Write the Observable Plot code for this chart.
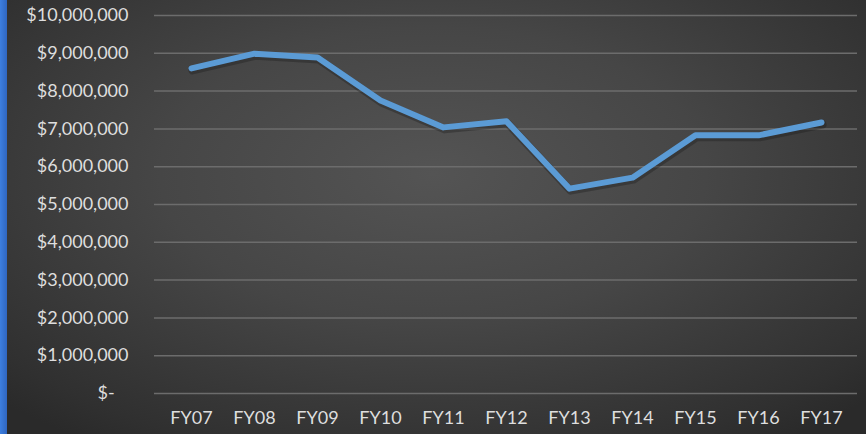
<!DOCTYPE html>
<html>
<head>
<meta charset="utf-8">
<script src="https://cdn.jsdelivr.net/npm/d3@7"></script>
<script src="https://cdn.jsdelivr.net/npm/@observablehq/plot@0.6"></script>
<style>
  html, body { margin: 0; padding: 0; background: #2b2b2b; }
  #wrap {
    position: relative; width: 866px; height: 434px; overflow: hidden;
    background: radial-gradient(ellipse 70% 75% at 50% 40%, #545454 0%, #464646 45%, #303030 90%, #2a2a2a 100%);
  }
  #stripe { position: absolute; left: 0; top: 0; width: 7px; height: 434px;
    background: linear-gradient(to right, #3d7fe0, #2f66c0); }
  #chart { position: absolute; left: 0; top: 0; }
</style>
</head>
<body>
<div id="wrap"><div id="stripe"></div><div id="chart"></div></div>
<script>
const years = ["FY07","FY08","FY09","FY10","FY11","FY12","FY13","FY14","FY15","FY16","FY17"];
const values = [8600000, 8990000, 8890000, 7750000, 7040000, 7200000, 5420000, 5710000, 6830000, 6830000, 7170000];
const yTicks = [0,1000000,2000000,3000000,4000000,5000000,6000000,7000000,8000000,9000000,10000000];

const data = years.map((y, i) => ({year: y, value: values[i]}));
const fmt = d3.format(",");

const chart = Plot.plot({
  width: 866,
  height: 434,
  marginLeft: 154,
  marginRight: 9,
  marginTop: 15,
  marginBottom: 41,
  style: {background: "transparent", fontFamily: "Lato, 'Open Sans', sans-serif", fontSize: "18px", color: "#dedede"},
  x: {type: "point", domain: years, padding: 0.5, label: null},
  y: {domain: [0, 10000000], label: null},
  marks: [
    Plot.ruleY(yTicks, {stroke: "#6c6c6c", strokeWidth: 1.5}),
    Plot.axisY({ticks: yTicks, tickSize: 0, tickPadding: 26, label: null,
      tickFormat: d => d === 0 ? "$-\u00a0\u00a0\u00a0" : "$" + fmt(d), fill: "#dedede"}),
    Plot.axisX({tickSize: 0, tickPadding: 18, label: null, fill: "#dedede"}),
    Plot.line(data, {x: "year", y: "value", stroke: "#1a1a1a", strokeWidth: 8, strokeOpacity: 0.35,
      strokeLinecap: "round", strokeLinejoin: "round", dx: 1, dy: 2}),
    Plot.line(data, {x: "year", y: "value", stroke: "#5b9bd5", strokeWidth: 6,
      strokeLinecap: "round", strokeLinejoin: "round"})
  ]
});
document.getElementById("chart").appendChild(chart);
</script>
</body>
</html>
